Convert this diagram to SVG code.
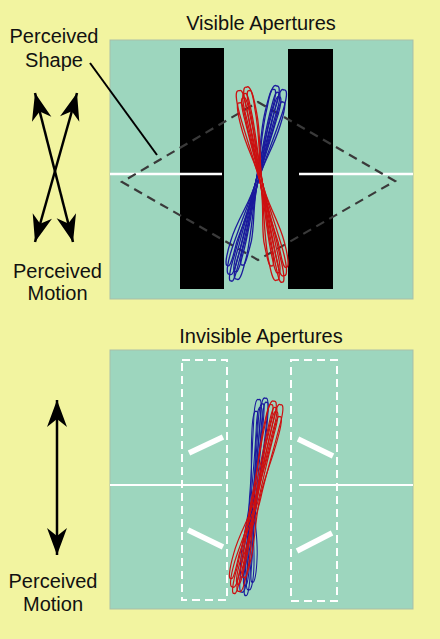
<svg xmlns="http://www.w3.org/2000/svg" width="440" height="639" viewBox="0 0 440 639">
<defs>
<style>
text{font-family:"Liberation Sans",Arial,sans-serif;font-size:20px;fill:#111;text-anchor:middle}
.panel{fill:#9dd6be;stroke:#a9bfa8;stroke-width:1}
.bar{fill:#000}
.wline{stroke:#fff;stroke-width:2.5;fill:none}
.wthick{stroke:#fff;stroke-width:5.5;fill:none}
.wdash{stroke:#fff;stroke-width:2;fill:none;stroke-dasharray:8 5}
.diamond{stroke:#3a3a3a;stroke-width:2.2;fill:none;stroke-dasharray:9 6}
.arrow{stroke:#000;stroke-width:2.5;fill:none;marker-start:url(#ah);marker-end:url(#ah)}
.red{fill:none;stroke:#cc1010;stroke-width:1.3}
.blue{fill:none;stroke:#1a1a9c;stroke-width:1.3}
</style>
<marker id="ah" viewBox="-28 -11 29 22" refX="0" refY="0" markerWidth="29" markerHeight="22" markerUnits="userSpaceOnUse" orient="auto-start-reverse">
<path d="M0,0 L-27,-10 L-19,0 L-27,10 Z" fill="#000"/>
</marker>
<g id="loops">
<path d="M0,-4 C-2,-8 8,-9 23,-8 C50,-6 75,-2 95,-1 C115,0 140,-1 165,0 C180,0 192,0 190,4 C192,8 180,9 165,8 C140,6 115,2 95,1 C75,0 50,1 23,0 C8,0 -2,0 0,-4Z"/>
<path d="M4,1 C2,-2 12,-3 27,-2 C52,-1 75,-1 95,-1 C115,-1 140,-4 161,-4 C176,-4 188,-4 186,-1 C188,2 176,3 161,2 C140,2 115,1 95,1 C75,1 52,4 27,4 C12,4 2,4 4,1Z"/>
<path d="M-2,4 C-4,0 6,-1 21,0 C48,0 75,-1 95,-1 C115,-1 140,-7 168,-8 C183,-8 195,-8 193,-4 C195,0 183,1 168,0 C140,0 115,1 95,1 C75,1 48,8 21,8 C6,9 -4,8 -2,4Z"/>
<path d="M8,-1 C6,-4 16,-5 31,-4 C55,-3 75,-1 95,-1 C115,-1 135,3 157,5 C172,5 184,5 182,8 C184,11 172,12 157,11 C135,10 115,1 95,1 C75,1 55,3 31,2 C16,2 6,2 8,-1Z"/>
<path d="M2,6 C0,3 10,2 25,3 C50,3 75,-1 95,-1 C115,-1 145,-2 171,-2 C186,-2 198,-2 196,1 C198,4 186,5 171,4 C145,4 115,1 95,1 C75,1 50,9 25,9 C10,9 0,9 2,6Z"/>
<path d="M12,-6 C10,-9 20,-10 35,-9 C58,-8 75,-1 95,-1 C115,-1 135,-8 153,-9 C168,-9 180,-9 178,-6 C180,-3 168,-2 153,-3 C135,-3 115,1 95,1 C75,1 58,-3 35,-3 C20,-3 10,-3 12,-6Z"/>
</g>
<g id="loops-loose">
<path d="M0,-4 C-2,-8 8,-9 23,-8 C50,-7 75,-5 95,-5 C115,-5 140,-1 165,0 C180,0 192,0 190,4 C192,8 180,9 165,8 C140,6 115,-1 95,-1 C75,-1 50,1 23,0 C8,0 -2,0 0,-4Z"/>
<path d="M4,1 C2,-2 12,-3 27,-2 C52,-1 75,-1 95,-1 C115,-1 140,-4 161,-4 C176,-4 188,-4 186,-1 C188,2 176,3 161,2 C140,2 115,3 95,3 C75,3 52,4 27,4 C12,4 2,4 4,1Z"/>
<path d="M-2,4 C-4,0 6,-1 21,0 C48,0 75,1 95,1 C115,1 140,-7 168,-8 C183,-8 195,-8 193,-4 C195,0 183,1 168,0 C140,0 115,5 95,5 C75,5 48,8 21,8 C6,9 -4,8 -2,4Z"/>
<path d="M8,-1 C6,-4 16,-5 31,-4 C55,-3 75,-3 95,-3 C115,-3 135,3 157,5 C172,5 184,5 182,8 C184,11 172,12 157,11 C135,10 115,1 95,1 C75,1 55,3 31,2 C16,2 6,2 8,-1Z"/>
<path d="M2,6 C0,3 10,2 25,3 C50,3 75,0 95,0 C115,0 145,-2 171,-2 C186,-2 198,-2 196,1 C198,4 186,5 171,4 C145,4 115,4 95,4 C75,4 50,9 25,9 C10,9 0,9 2,6Z"/>
<path d="M12,-6 C10,-9 20,-10 35,-9 C58,-8 75,-4 95,-4 C115,-4 135,-8 153,-9 C168,-9 180,-9 178,-6 C180,-3 168,-2 153,-3 C135,-3 115,0 95,0 C75,0 58,-3 35,-3 C20,-3 10,-3 12,-6Z"/>
</g>
</defs>
<rect width="440" height="639" fill="#f2f4a0"/>

<g id="top-panel">
<rect class="panel" x="110" y="40" width="303" height="259"/>
<rect id="left-aperture" class="bar" x="180" y="48" width="44" height="241"/>
<rect id="right-aperture" class="bar" x="288" y="49" width="45" height="240"/>
<line class="wline" x1="110" y1="174" x2="222" y2="174"/>
<line class="wline" x1="299" y1="174" x2="413" y2="174"/>
<path id="perceived-shape" class="diamond" d="M258,102 L395,181 L258,260 L122,182 Z"/>
<use id="top-blue" class="blue" href="#loops" transform="translate(280,89) rotate(104) scale(1.01,1)"/>
<use id="top-red" class="red" href="#loops" transform="translate(243,90) rotate(78.8) scale(1,-1)"/>
</g>

<g id="bottom-panel">
<rect class="panel" x="110" y="350" width="303" height="259"/>
<rect id="left-invisible-aperture" class="wdash" x="182" y="360" width="45" height="240"/>
<rect id="right-invisible-aperture" class="wdash" x="291" y="360" width="46" height="241"/>
<line class="wline" x1="110" y1="485" x2="222" y2="485" style="stroke-width:2"/>
<line class="wline" x1="299" y1="485" x2="413" y2="485" style="stroke-width:2"/>
<line class="wthick" x1="189" y1="453" x2="223" y2="437"/>
<line class="wthick" x1="188" y1="530" x2="223" y2="547"/>
<line class="wthick" x1="298" y1="439" x2="333" y2="456"/>
<line class="wthick" x1="297" y1="551" x2="332" y2="533"/>
<use id="bottom-blue" class="blue" href="#loops-loose" transform="translate(262,400) rotate(95) scale(1,-0.8)"/>
<use id="bottom-red" class="red" href="#loops-loose" transform="translate(277,404) rotate(102.5) scale(0.99,0.9)"/>
</g>

<g id="labels">
<text id="title-visible" x="261" y="30">Visible Apertures</text>
<text id="label-shape" x="54" y="43">Perceived<tspan x="54" y="67">Shape</tspan></text>
<text id="label-motion-top" x="57.5" y="278">Perceived<tspan x="57.5" y="300">Motion</tspan></text>
<text id="title-invisible" x="261" y="343">Invisible Apertures</text>
<text id="label-motion-bottom" x="53" y="588">Perceived<tspan x="53" y="611">Motion</tspan></text>
</g>

<g id="connectors">
<line id="shape-leader" x1="90" y1="63" x2="157" y2="155" stroke="#000" stroke-width="2"/>
<line id="motion-arrow-a" class="arrow" x1="35" y1="93" x2="73" y2="242"/>
<line id="motion-arrow-b" class="arrow" x1="77" y1="93" x2="35" y2="242"/>
<line id="motion-arrow-vertical" class="arrow" x1="57" y1="400" x2="57" y2="555"/>
</g>
</svg>
